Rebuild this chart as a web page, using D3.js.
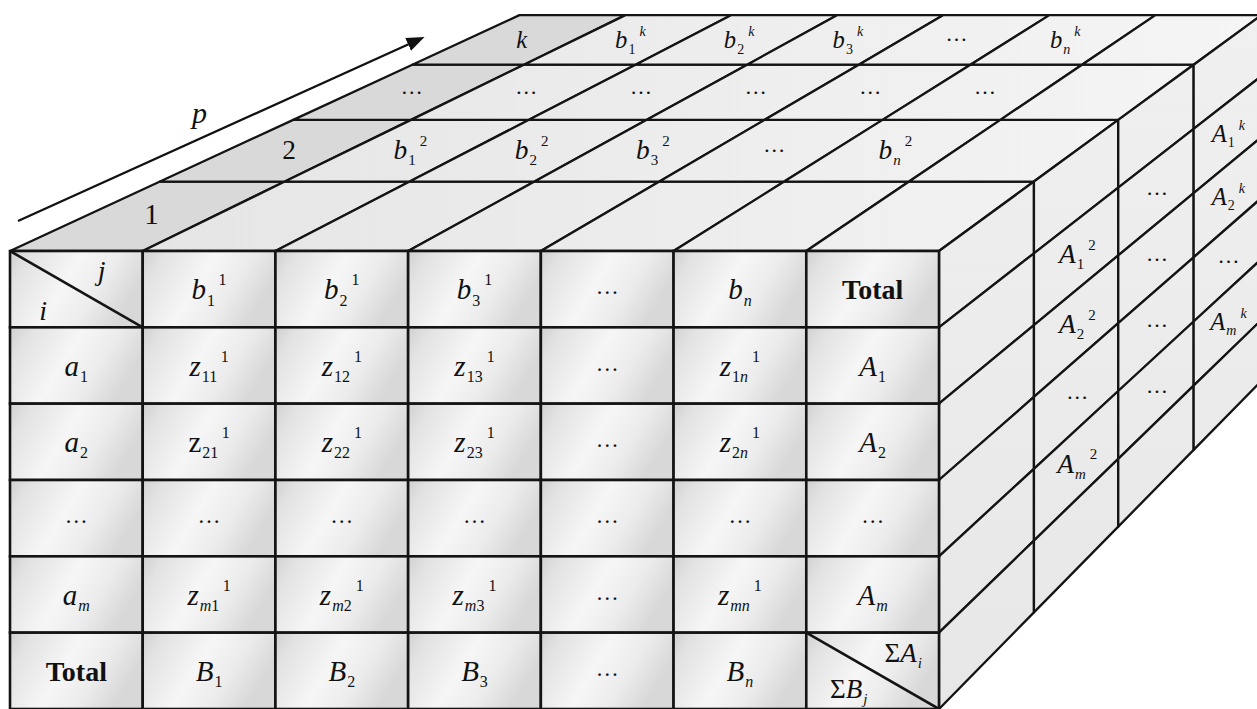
<!DOCTYPE html>
<html>
<head>
<meta charset="utf-8">
<script src="https://cdn.jsdelivr.net/npm/d3@7"></script>
<style>
html,body{margin:0;padding:0;background:#fff;}
svg{display:block;}
text{font-family:"Liberation Serif","Times New Roman",serif;fill:#111;}
</style>
</head>
<body>
<svg id="chart" width="1257" height="709"></svg>
<script>
// front slice (p = 1): header row, row labels and cells
var colHeaders = ["", "b_{1}^{1}", "b_{2}^{1}", "b_{3}^{1}", "…", "b_{n}", "Total"];
var rowLabels = ["a_{1}", "a_{2}", "…", "a_{m}", "Total"];
var cellRows = [
    ["z_{11}^{1}", "z_{12}^{1}", "z_{13}^{1}", "…", "z_{1n}^{1}", "A_{1}"],
    ["!z_{21}^{1}", "z_{22}^{1}", "z_{23}^{1}", "…", "z_{2n}^{1}", "A_{2}"],
    ["…", "…", "…", "…", "…", "…"],
    ["z_{m1}^{1}", "z_{m2}^{1}", "z_{m3}^{1}", "…", "z_{mn}^{1}", "A_{m}"],
    ["B_{1}", "B_{2}", "B_{3}", "…", "B_{n}", ""]
];
var cornerHead = ["j", "i"];
var cornerTotal = ["ΣA_{i}", "ΣB_{j}"];

// slices behind, seen on the top face (one row per layer p)
var topLabels = [
    ["1", "", "", "", "", "", ""],
    ["2", "b_{1}^{2}", "b_{2}^{2}", "b_{3}^{2}", "…", "b_{n}^{2}", ""],
    ["…", "…", "…", "…", "…", "…", ""],
    ["k", "b_{1}^{k}", "b_{2}^{k}", "b_{3}^{k}", "…", "b_{n}^{k}", ""]
];
// same slices seen on the right face (one entry per table row)
var sideLabels = [
    ["", "", "", "", "", ""],
    ["", "A_{1}^{2}", "A_{2}^{2}", "…", "A_{m}^{2}", ""],
    ["", "…", "…", "…", "…", ""],
    ["", "A_{1}^{k}", "A_{2}^{k}", "…", "A_{m}^{k}", ""]
];
var axisName = "p";

var nCols = colHeaders.length;
var nRows = rowLabels.length + 1;
var nLayers = topLabels.length;

var svg = d3.select("#chart");
var defs = svg.append("defs");

var cellGrad = defs.append("linearGradient").attr("id", "cellGrad")
    .attr("x1", 0).attr("y1", 0).attr("x2", 1).attr("y2", 0.35);
[[0, "#d0d0d0"], [0.15, "#e2e2e2"], [0.5, "#f6f6f6"], [0.75, "#ececec"], [1, "#d8d8d8"]]
    .forEach(s => cellGrad.append("stop").attr("offset", s[0]).attr("stop-color", s[1]));

var topGrad = defs.append("linearGradient").attr("id", "topGrad")
    .attr("gradientUnits", "userSpaceOnUse").attr("x1", 0).attr("y1", 0).attr("x2", 1257).attr("y2", 0);
[[0, "#e3e3e3"], [1, "#f5f5f5"]]
    .forEach(s => topGrad.append("stop").attr("offset", s[0]).attr("stop-color", s[1]));

var sideGrad = defs.append("linearGradient").attr("id", "sideGrad")
    .attr("gradientUnits", "userSpaceOnUse").attr("x1", 0).attr("y1", 0).attr("x2", 0).attr("y2", 709);
[[0, "#f0f0f0"], [1, "#e7e7e7"]]
    .forEach(s => sideGrad.append("stop").attr("offset", s[0]).attr("stop-color", s[1]));

defs.append("marker").attr("id", "arrow")
    .attr("markerUnits", "userSpaceOnUse")
    .attr("viewBox", "0 0 18 14").attr("markerWidth", 18).attr("markerHeight", 14)
    .attr("refX", 12).attr("refY", 7).attr("orient", "auto")
    .append("path").attr("d", "M0,0L18,7L0,14Z").attr("fill", "#111");

// front plane scales and perspective toward a vanishing point
var xCol = d3.scaleLinear().domain([0, nCols]).range([10, 939]);
var yRow = d3.scaleLinear().domain([0, nRows]).range([251, 709]);
var depthInv = d3.scaleLinear().domain([0, nLayers]).range([1, 1.252]);
var VP = [2541, -921];

function scaleAt(d) { return 1 / depthInv(d); }
function proj(X, Y, d) {
    var s = scaleAt(d);
    return [VP[0] + s * (X - VP[0]), VP[1] + s * (Y - VP[1])];
}
function poly(pts) { return "M" + pts.map(p => p[0].toFixed(2) + "," + p[1].toFixed(2)).join("L") + "Z"; }

function drawLabel(g, str, x, y, size) {
    var t = g.append("text").attr("x", x).attr("y", y).attr("text-anchor", "middle").attr("font-size", size);
    if (str === "Total") {
        t.attr("font-weight", "bold").attr("font-size", 28).text(str);
        return;
    }
    var small = Math.round(size * 0.55);
    var roman = str.charAt(0) === "!";
    if (roman) str = str.slice(1);
    var m = str.match(/^([^_^]*)(?:_\{([^}]*)\})?(?:\^\{([^}]*)\})?$/);
    m[1].split("").forEach(function(ch) {
        t.append("tspan").style("font-style", /[a-zA-Z]/.test(ch) && !roman ? "italic" : "normal").text(ch);
    });
    if (m[2]) m[2].split("").forEach(function(ch, i) {
        var ts = t.append("tspan").attr("font-size", small).style("font-style", /[a-zA-Z]/.test(ch) ? "italic" : "normal").text(ch);
        if (i === 0) ts.attr("dy", size * 0.22).attr("dx", 1);
    });
    if (m[3]) m[3].split("").forEach(function(ch, i) {
        var ts = t.append("tspan").attr("font-size", small).style("font-style", /[a-zA-Z]/.test(ch) ? "italic" : "normal").text(ch);
        if (i === 0) ts.attr("dy", m[2] ? -size * 0.7 : -size * 0.48).attr("dx", m[2] ? 4 : 2);
    });
}

// top face
var topCells = [];
d3.range(nLayers).forEach(d => d3.range(nCols).forEach(c => topCells.push({d: d, c: c, label: topLabels[d][c]})));
var Y0 = yRow(0);
var gTop = svg.append("g");
gTop.selectAll("path").data(topCells).join("path")
    .attr("d", e => poly([proj(xCol(e.c), Y0, e.d), proj(xCol(e.c + 1), Y0, e.d),
                          proj(xCol(e.c + 1), Y0, e.d + 1), proj(xCol(e.c), Y0, e.d + 1)]))
    .attr("fill", e => e.c === 0 ? "#d9d9d9" : "url(#topGrad)")
    .attr("stroke", "#141414").attr("stroke-width", 2.3).attr("stroke-linejoin", "round");

// right face
var sideCells = [];
d3.range(nLayers).forEach(d => d3.range(nRows).forEach(r => sideCells.push({d: d, r: r, label: sideLabels[d][r]})));
var X1 = xCol(nCols);
var gSide = svg.append("g");
gSide.selectAll("path").data(sideCells).join("path")
    .attr("d", e => poly([proj(X1, yRow(e.r), e.d), proj(X1, yRow(e.r + 1), e.d),
                          proj(X1, yRow(e.r + 1), e.d + 1), proj(X1, yRow(e.r), e.d + 1)]))
    .attr("fill", "url(#sideGrad)")
    .attr("stroke", "#141414").attr("stroke-width", 2.3).attr("stroke-linejoin", "round");

// front face
var frontCells = [];
d3.range(nRows).forEach(r => d3.range(nCols).forEach(c => {
    var label = r === 0 ? colHeaders[c] : (c === 0 ? rowLabels[r - 1] : cellRows[r - 1][c - 1]);
    frontCells.push({r: r, c: c, label: label});
}));
var gFront = svg.append("g");
gFront.selectAll("rect").data(frontCells).join("rect")
    .attr("x", e => xCol(e.c)).attr("y", e => yRow(e.r))
    .attr("width", xCol(1) - xCol(0)).attr("height", yRow(1) - yRow(0))
    .attr("fill", "url(#cellGrad)")
    .attr("stroke", "#141414").attr("stroke-width", 2.6);

// diagonal split cells
[[0, 0], [nRows - 1, nCols - 1]].forEach(function(rc) {
    gFront.append("line")
        .attr("x1", xCol(rc[1])).attr("y1", yRow(rc[0]))
        .attr("x2", xCol(rc[1] + 1)).attr("y2", yRow(rc[0] + 1))
        .attr("stroke", "#141414").attr("stroke-width", 2.6);
});

var gText = svg.append("g");
var cw = xCol(1) - xCol(0), rh = yRow(1) - yRow(0);
frontCells.forEach(function(e) {
    if (!e.label) return;
    var cx = xCol(e.c) + cw / 2, cy = yRow(e.r) + rh / 2;
    if (e.label === "…") drawLabel(gText, e.label, cx, cy + 5, 23);
    else drawLabel(gText, e.label, cx, cy + 10, 29);
});
drawLabel(gText, cornerHead[0], xCol(0) + cw * 0.69, yRow(0) + rh * 0.38, 28);
drawLabel(gText, cornerHead[1], xCol(0) + cw * 0.25, yRow(0) + rh * 0.9, 28);
drawLabel(gText, cornerTotal[0], xCol(nCols - 1) + cw * 0.73, yRow(nRows - 1) + rh * 0.385, 27);
drawLabel(gText, cornerTotal[1], xCol(nCols - 1) + cw * 0.32, yRow(nRows - 1) + rh * 0.86, 27);

topCells.forEach(function(e) {
    if (!e.label) return;
    var p = proj(xCol(e.c) + cw / 2, Y0, e.d + 0.5);
    var fs = 30 * scaleAt(e.d + 0.5);
    if (e.label === "…") drawLabel(gText, e.label, p[0], p[1] + 2, 22);
    else drawLabel(gText, e.label, p[0], p[1] + 9, fs);
});
sideCells.forEach(function(e) {
    if (!e.label) return;
    var p = proj(X1, yRow(e.r) + rh / 2, e.d + 0.5);
    var fs = 30 * scaleAt(e.d + 0.5);
    if (e.label === "…") drawLabel(gText, e.label, p[0], p[1] + 5, 22);
    else drawLabel(gText, e.label, p[0], p[1] + 9, fs);
});

// depth arrow p
var a0 = proj(18, 221, 0), a1 = proj(18, 221, 3);
svg.append("line")
    .attr("x1", a0[0]).attr("y1", a0[1]).attr("x2", a1[0]).attr("y2", a1[1])
    .attr("stroke", "#111").attr("stroke-width", 2.2)
    .attr("marker-end", "url(#arrow)");
var pp = proj(18, 204, 1.23);
drawLabel(gText, axisName, pp[0], pp[1], 30);
</script>
</body>
</html>
